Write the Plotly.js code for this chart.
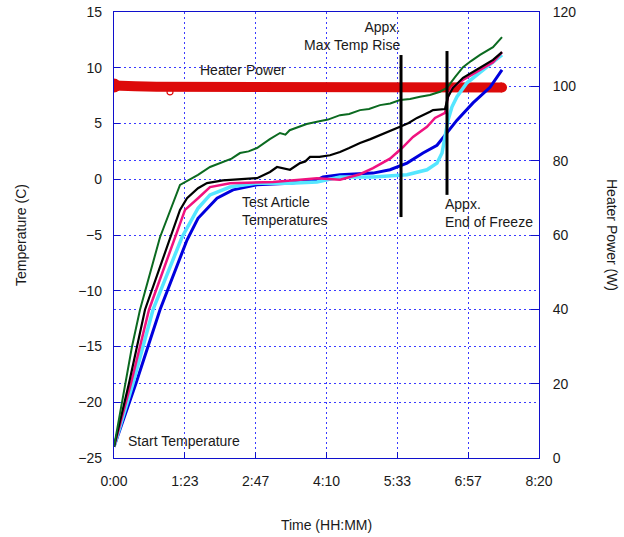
<!DOCTYPE html>
<html>
<head>
<meta charset="utf-8">
<script src="https://cdn.plot.ly/plotly-3.0.1.min.js"></script>
<style>html,body{margin:0;padding:0;background:#fff;}#chart{width:624px;height:537px;}</style>
</head>
<body>
<div id="chart"></div>
<script>
// Time axis (seconds) and tick labels
const tickTimes = [0, 5000, 10000, 15000, 20000, 25000, 30000];
const tickLabels = ['0:00', '1:23', '2:47', '4:10', '5:33', '6:57', '8:20'];

// Heater power (W)
const heaterTime  = [0, 300, 1500, 3000, 5000, 8000, 11000, 14000, 17000, 20000, 23000, 26000, 27389];
const heaterPower = [100.2, 100.1, 100.0, 99.9, 99.9, 99.8, 99.8, 99.8, 99.8, 99.8, 99.7, 99.7, 99.7];
const outlierTime  = [3953];
const outlierPower = [98.5];

// Temperatures (C)
const greenTime = [0, 776, 1271, 1835, 3247, 4659, 5012, 5365, 5930, 6777, 7694, 8300, 8894, 9500, 10094, 11000, 11718, 12100, 12400, 13130, 13600, 14330, 15100, 15953, 16600, 17365, 18000, 18777, 19500, 20189, 20900, 21601, 22300, 23012, 23506, 24071, 24636, 25200, 25836, 26754, 27389];
const greenTemp = [-24.0, -18.3, -15.0, -11.7, -5.2, -0.5, -0.25, -0.05, 0.4, 1.1, 1.55, 1.85, 2.35, 2.5, 2.8, 3.6, 4.15, 4.0, 4.4, 4.7, 4.95, 5.15, 5.35, 5.75, 5.85, 6.2, 6.3, 6.65, 6.8, 7.1, 7.2, 7.4, 7.55, 7.85, 8.2, 9.15, 10.05, 10.6, 11.15, 11.85, 12.75];

const blackTime = [0, 1059, 2188, 3953, 4659, 5153, 5930, 6565, 7694, 10094, 11012, 11506, 12000, 12424, 13130, 13500, 13836, 14500, 15248, 15953, 16600, 17365, 18100, 18777, 19500, 20189, 20800, 21389, 22306, 22518, 23365, 23577, 23930, 24636, 25836, 26754, 27389];
const blackTemp = [-24.0, -18.3, -11.7, -5.2, -2.75, -1.7, -0.8, -0.35, -0.1, 0.1, 0.65, 1.1, 0.95, 0.85, 1.45, 1.6, 2.0, 2.0, 2.15, 2.45, 2.8, 3.25, 3.6, 3.95, 4.3, 4.7, 5.05, 5.5, 6.05, 6.2, 6.3, 7.4, 8.2, 9.1, 10.0, 10.7, 11.4];

const pinkTime = [0, 1200, 2471, 4306, 5012, 5930, 6777, 8188, 11224, 13130, 14330, 15953, 16659, 17365, 18283, 19483, 20330, 21106, 22095, 22660, 23365, 23577, 23859, 24636, 25836, 26754, 27389];
const pinkTemp = [-24.0, -18.3, -11.7, -5.2, -2.75, -1.7, -0.7, -0.35, -0.25, -0.05, 0.1, -0.05, 0.2, 0.45, 1.0, 1.85, 2.8, 3.8, 4.7, 5.5, 5.95, 7.4, 8.2, 8.9, 9.8, 10.5, 11.4];

const cyanTime = [0, 1341, 2753, 4800, 5930, 6777, 8188, 10094, 12424, 14330, 15953, 18283, 20683, 22095, 22801, 23154, 23365, 23577, 23859, 24212, 24918, 25836, 26754, 27389];
const cyanTemp = [-24.0, -18.3, -11.7, -5.2, -2.6, -1.4, -0.7, -0.35, -0.35, -0.25, 0.2, 0.2, 0.4, 0.85, 1.45, 2.35, 3.8, 5.3, 6.5, 7.4, 8.65, 9.55, 10.45, 11.15];

const blueTime = [0, 1553, 3247, 5153, 5930, 7271, 8400, 10094, 12424, 14330, 14753, 15953, 18283, 19483, 20683, 21813, 22801, 23506, 24212, 25342, 26542, 27389];
const blueTemp = [-24.0, -18.3, -11.7, -5.45, -3.5, -1.7, -0.95, -0.5, -0.35, -0.05, 0.2, 0.4, 0.55, 0.85, 1.45, 2.35, 3.05, 4.15, 5.3, 6.85, 8.25, 9.8];

// Annotation marker lines (time, temperature span)
const maxRiseTime = [20260, 20260];
const maxRiseTemp = [11.14, -3.39];
const freezeEndTime = [23506, 23506];
const freezeEndTemp = [11.5, -1.4];

const FONT = 'Liberation Sans, Arial, Helvetica, sans-serif';
const AXIS_BLUE = '#1010cc';
const GRID_BLUE = '#3a3aff';
const GRID_DASH = '2px,3px';

function tempTrace(x, y, color, width) {
  return {x: x, y: y, type: 'scatter', mode: 'lines', yaxis: 'y2',
          line: {color: color, width: width}, hoverinfo: 'skip', showlegend: false};
}

const traces = [
  {x: heaterTime, y: heaterPower, type: 'scatter', mode: 'lines', yaxis: 'y',
   line: {color: '#dd0a0a', width: 10}, showlegend: false},
  {x: [heaterTime[0]], y: [heaterPower[0]], type: 'scatter', mode: 'markers', yaxis: 'y',
   marker: {color: '#dd0a0a', size: 14}, showlegend: false},
  {x: [heaterTime[heaterTime.length - 1]], y: [heaterPower[heaterPower.length - 1]], type: 'scatter', mode: 'markers', yaxis: 'y',
   marker: {color: '#dd0a0a', size: 10}, showlegend: false},
  {x: outlierTime, y: outlierPower, type: 'scatter', mode: 'markers', yaxis: 'y',
   marker: {color: '#dd0a0a', size: 6, symbol: 'circle-open', line: {width: 1.2, color: '#dd0a0a'}}, showlegend: false},
  tempTrace(blueTime, blueTemp, '#0000dd', 3),
  tempTrace(cyanTime, cyanTemp, '#55e6ff', 3.5),
  tempTrace(pinkTime, pinkTemp, '#f0127f', 2.5),
  tempTrace(blackTime, blackTemp, '#000000', 2.2),
  tempTrace(greenTime, greenTemp, '#0b6a20', 2),
  tempTrace(maxRiseTime, maxRiseTemp, '#000000', 3),
  tempTrace(freezeEndTime, freezeEndTemp, '#000000', 3)
];

const annFont = {family: FONT, size: 14, color: '#1a1a1a'};
const layout = {
  width: 624, height: 537,
  margin: {l: 114, r: 85, t: 12, b: 79},
  paper_bgcolor: '#ffffff', plot_bgcolor: '#ffffff',
  showlegend: false,
  font: {family: FONT, size: 14, color: '#1a1a1a'},
  xaxis: {
    range: [0, 30000], tickvals: tickTimes, ticktext: tickLabels,
    showline: true, linecolor: AXIS_BLUE, linewidth: 1.2, mirror: true,
    ticks: 'inside', ticklen: 6, tickcolor: AXIS_BLUE,
    showgrid: true, gridcolor: GRID_BLUE, griddash: GRID_DASH, gridwidth: 1,
    zeroline: false, ticklabelstandoff: 10,
    title: {text: 'Time (HH:MM)', font: {family: FONT, size: 14, color: '#1a1a1a'}, standoff: 32}
  },
  yaxis: {
    range: [0, 120], dtick: 20, side: 'right',
    showline: true, linecolor: AXIS_BLUE, linewidth: 1,
    ticks: 'inside', ticklen: 8, tickcolor: AXIS_BLUE,
    showgrid: true, gridcolor: GRID_BLUE, griddash: GRID_DASH, gridwidth: 1,
    zeroline: false, ticklabelstandoff: 10
  },
  yaxis2: {
    range: [-25, 15], dtick: 5, side: 'left', overlaying: 'y',
    showline: true, linecolor: AXIS_BLUE, linewidth: 1.2,
    ticks: 'inside', ticklen: 6, tickcolor: AXIS_BLUE,
    showgrid: true, gridcolor: GRID_BLUE, griddash: GRID_DASH, gridwidth: 1,
    zeroline: false, ticklabelstandoff: 8,
    title: {text: 'Temperature (C)', font: {family: FONT, size: 14, color: '#1a1a1a'}, standoff: 48}
  },
  annotations: [
    {text: 'Heater Power', x: 5930, y: 9.8, xref: 'x', yref: 'y2', xanchor: 'left', yanchor: 'middle', showarrow: false, font: annFont},
    {text: 'Appx.<br>Max Temp Rise', x: 20330, y: 12.85, xref: 'x', yref: 'y2', xanchor: 'right', yanchor: 'middle', align: 'right', showarrow: false, font: annFont},
    {text: 'Test Article<br>Temperatures', x: 8894, y: -2.85, xref: 'x', yref: 'y2', xanchor: 'left', yanchor: 'middle', align: 'left', showarrow: false, font: annFont},
    {text: 'Appx.<br>End of Freeze', x: 23224, y: -3.05, xref: 'x', yref: 'y2', xanchor: 'left', yanchor: 'middle', align: 'left', showarrow: false, font: annFont},
    {text: 'Start Temperature', x: 847, y: -23.5, xref: 'x', yref: 'y2', xanchor: 'left', yanchor: 'middle', showarrow: false, font: annFont},
    {text: 'Heater Power (W)', x: 0, y: 0, xref: 'paper', yref: 'paper', xanchor: 'center', yanchor: 'middle', showarrow: false, textangle: 90, font: annFont}
  ]
};
// place right-axis title at pixel (612, 235) in paper coordinates
layout.annotations[5].x = (612 - 114) / (624 - 114 - 85);
layout.annotations[5].y = (537 - 79 - 235) / (537 - 12 - 79);

Plotly.newPlot('chart', traces, layout, {staticPlot: true, displayModeBar: false});
</script>
</body>
</html>
